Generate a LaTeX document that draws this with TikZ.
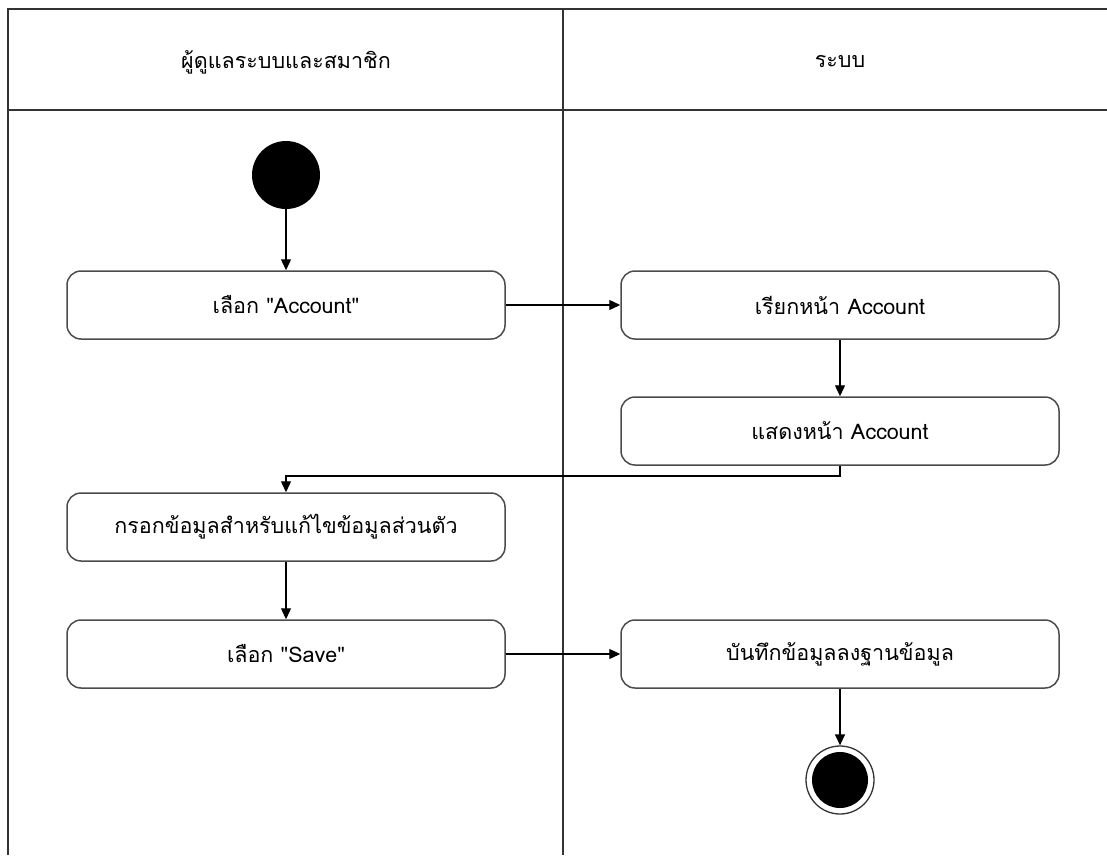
\documentclass[tikz,border=0pt]{standalone}
\usepackage{fontspec}
\newfontfamily\thaifont[Script=Thai]{Loma}
\usetikzlibrary{arrows.meta}
\begin{document}
\begin{tikzpicture}[x=1pt,y=-1pt,
  frame/.style={draw=black!80,line width=2.2pt},
  act/.style={draw=black!70,line width=1.5pt,rounded corners=14pt,minimum width=438pt,minimum height=68pt,font=\thaifont\fontsize{21.5}{25}\selectfont,inner sep=0pt},
  flow/.style={draw=black,line width=1.3pt,-{Triangle[length=11pt,width=10pt]}},
  lbl/.style={font=\thaifont\fontsize{21.5}{25}\selectfont}]
\useasboundingbox (0,0) rectangle (1107,855);
% frame
\draw[frame] (1107,9) -- (8,9) -- (8,855);
\draw[frame] (8,110) -- (1107,110);
\draw[frame] (563,9) -- (563,855);
\node[lbl] (h1) at (286,62) {ผู้ดูแลระบบและสมาชิก};
\node[lbl] (h2) at (840,62) {ระบบ};
% nodes
\node[circle,fill=black,minimum size=68pt,inner sep=0pt] (start) at (286,175) {};
\node[act] (a) at (286,305) {เลือก "Account"};
\node[act] (b) at (840,305) {เรียกหน้า Account};
\node[act] (c) at (840,431) {แสดงหน้า Account};
\node[act] (d) at (286,527) {กรอกข้อมูลสำหรับแก้ไขข้อมูลส่วนตัว};
\node[act] (e) at (286,654) {เลือก "Save"};
\node[act] (f) at (840,654) {บันทึกข้อมูลลงฐานข้อมูล};
\node[circle,draw=black!80,line width=1.3pt,minimum size=68pt,inner sep=0pt] (end) at (840,780) {};
\node[circle,fill=black,minimum size=56pt,inner sep=0pt] (endin) at (840,780) {};
\coordinate (k1) at (840,476);
\coordinate (k2) at (286,476);
% flows
\draw[flow] (start) -- (a);
\draw[flow] (a) -- (b);
\draw[flow] (b) -- (c);
\draw[flow] (c.south) -- (k1) -- (k2) -- (d.north);
\draw[flow] (d) -- (e);
\draw[flow] (e) -- (f);
\draw[flow] (f) -- (end);
\end{tikzpicture}
\end{document}
